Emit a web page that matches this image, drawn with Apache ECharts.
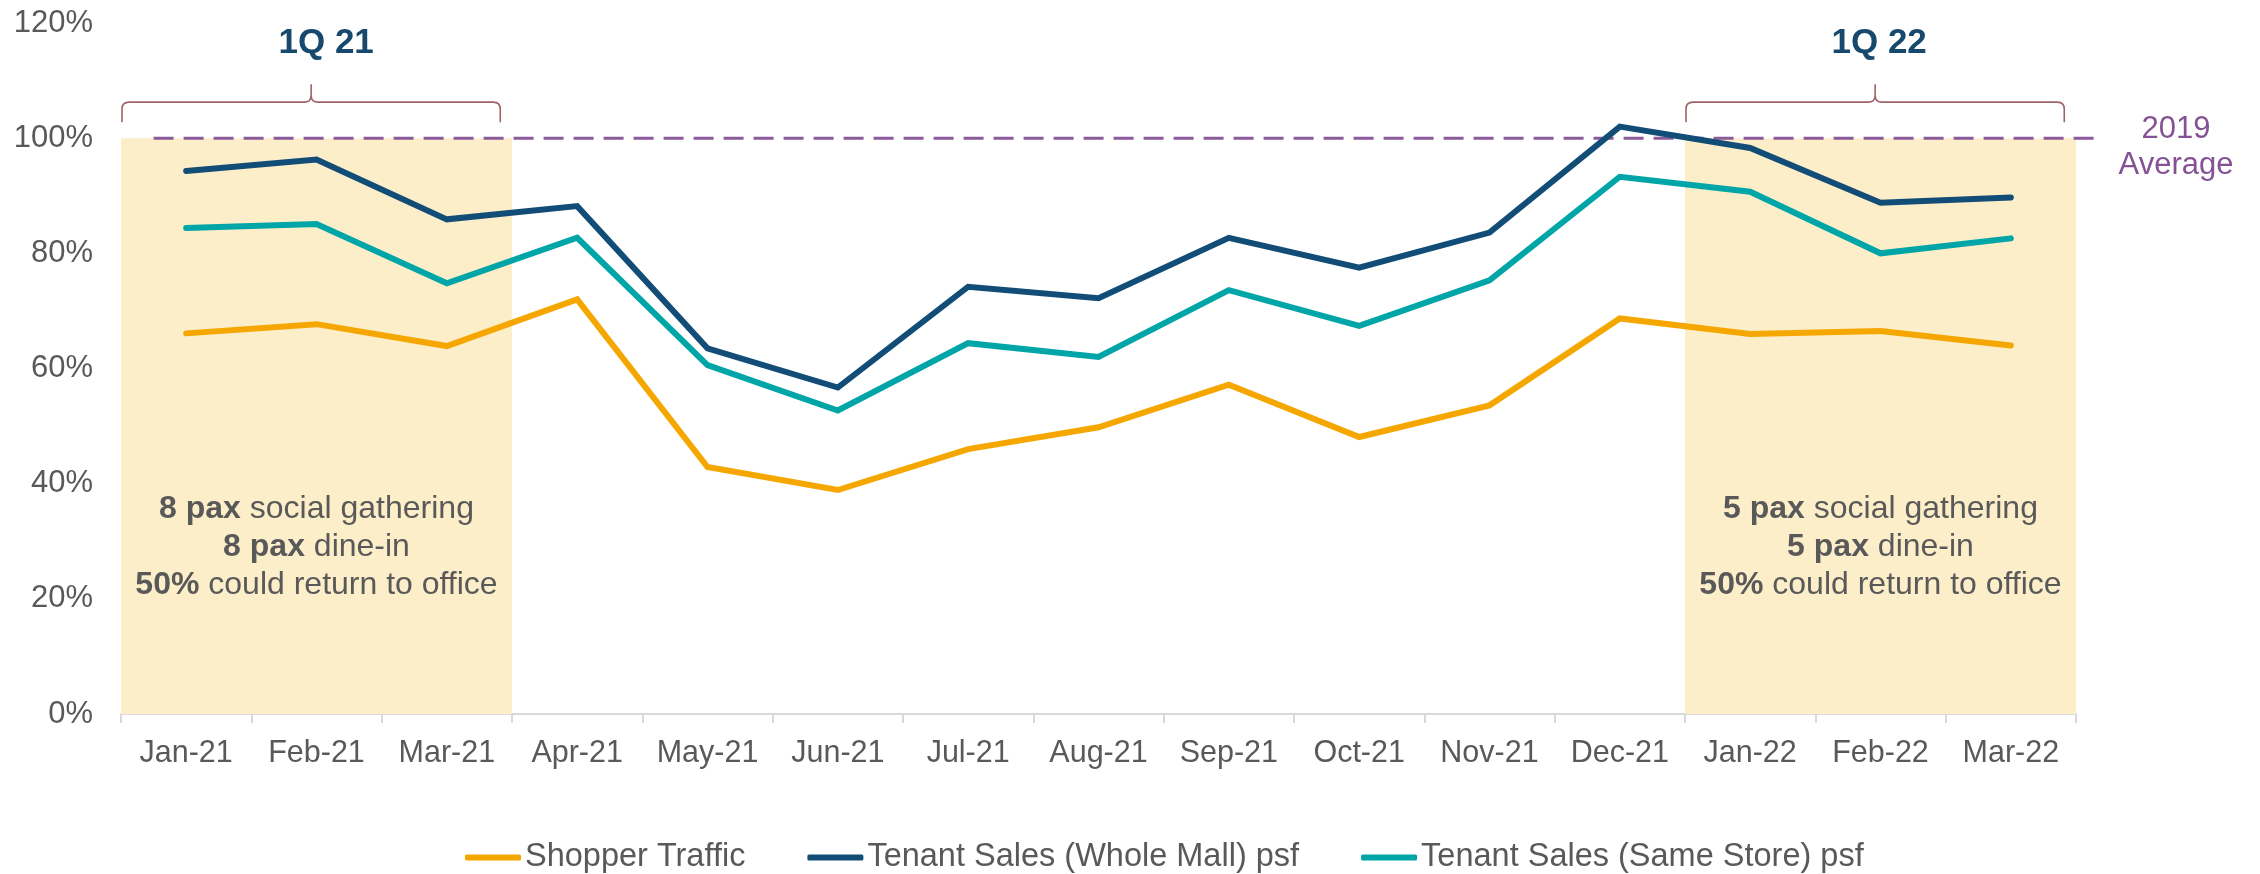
<!DOCTYPE html>
<html>
<head>
<meta charset="utf-8">
<title>Shopper Traffic and Tenant Sales</title>
<script src="https://cdn.jsdelivr.net/npm/echarts@6/dist/echarts.min.js"></script>
<style>
  html, body { margin: 0; padding: 0; background: #ffffff; }
  #chart { width: 2260px; height: 874px; }
</style>
</head>
<body>
<div id="chart"></div>
<script>
// Monthly categories
const months = ['Jan-21', 'Feb-21', 'Mar-21', 'Apr-21', 'May-21', 'Jun-21', 'Jul-21', 'Aug-21',
                'Sep-21', 'Oct-21', 'Nov-21', 'Dec-21', 'Jan-22', 'Feb-22', 'Mar-22'];

// Series values, % of 2019 average
const shopperTraffic = [66.1, 67.7, 63.9, 72.0, 42.9, 38.9, 46.0, 49.8, 57.2, 48.1, 53.6, 68.7, 66.0, 66.5, 64.0];
const salesWholeMall = [94.3, 96.3, 85.9, 88.2, 63.5, 56.7, 74.2, 72.2, 82.7, 77.5, 83.6, 102.0, 98.3, 88.8, 89.7];
const salesSameStore = [84.4, 85.1, 74.8, 82.7, 60.6, 52.7, 64.4, 62.0, 73.6, 67.4, 75.3, 93.3, 90.7, 80.0, 82.6];

const seriesNames = ['Shopper Traffic', 'Tenant Sales (Whole Mall) psf', 'Tenant Sales (Same Store) psf'];

// Reference level and value axis ticks
const average2019 = 100;
const averageLabel = '2019\nAverage';
const yMin = 0, yMax = 120, yStep = 20;

// Highlighted quarters: first / last month index, title and restriction notes
const quarterLabels = ['1Q 21', '1Q 22'];
const quarterStart = [0, 12];
const quarterEnd = [2, 14];
const quarterNotes = [
  ['{b|8 pax} social gathering', '{b|8 pax} dine-in', '{b|50%} could return to office'],
  ['{b|5 pax} social gathering', '{b|5 pax} dine-in', '{b|50%} could return to office']
];
const noteLevel = 29;

const FONT = '"Liberation Sans", Arial, Helvetica, sans-serif';
const GREY = '#595959';
const COLORS = ['#F5A700', '#124D77', '#00A5A8'];
// horizontal nudge of each quarter title relative to its brace tip (px)
const TITLE_SHIFT = [15, 4];

const chart = echarts.init(document.getElementById('chart'), null, { renderer: 'canvas' });

// Shaded quarter bands with brace, title and notes
function renderQuarter(params, api) {
  const i = params.dataIndex;
  const s = api.value(0), e = api.value(1);
  const band = api.size([1, 0])[0];
  const pS = api.coord([s, average2019]);
  const pE = api.coord([e, average2019]);
  const p0 = api.coord([s, 0]);
  const x0 = pS[0] - band / 2, x1 = pE[0] + band / 2;
  const yTop = pS[1], yBot = p0[1];

  const bl = x0 + 1, br = x1 - 0.09 * band, mid = (bl + br) / 2;
  const yb = yTop - 16, yh = yTop - 36, tip = yTop - 54, r = 7;
  const brace =
    'M' + bl + ',' + yb + ' L' + bl + ',' + (yh + r) + ' Q' + bl + ',' + yh + ' ' + (bl + r) + ',' + yh +
    ' L' + (mid - r) + ',' + yh + ' Q' + mid + ',' + yh + ' ' + mid + ',' + (yh - r) + ' L' + mid + ',' + tip +
    ' M' + mid + ',' + (yh - r) + ' Q' + mid + ',' + yh + ' ' + (mid + r) + ',' + yh +
    ' L' + (br - r) + ',' + yh + ' Q' + br + ',' + yh + ' ' + br + ',' + (yh + r) + ' L' + br + ',' + yb;

  const noteY = api.coord([s, noteLevel])[1];

  return {
    type: 'group',
    children: [
      { type: 'rect', shape: { x: x0, y: yTop, width: x1 - x0, height: yBot - yTop }, style: { fill: '#FDEECA' } },
      { type: 'path', shape: { pathData: brace }, style: { fill: null, stroke: '#9E6467', lineWidth: 1.6 } },
      {
        type: 'text',
        style: {
          text: quarterLabels[i], x: mid + TITLE_SHIFT[i], y: yTop - 95,
          fill: '#17496F', font: 'bold 35px ' + FONT, align: 'center', verticalAlign: 'middle'
        }
      },
      {
        type: 'text',
        style: {
          text: quarterNotes[i].join('\n'), x: (x0 + x1) / 2, y: noteY,
          fill: GREY, fontSize: 32, fontFamily: FONT, lineHeight: 38,
          align: 'center', verticalAlign: 'middle',
          rich: { b: { fontWeight: 'bold', fontSize: 32, fontFamily: FONT, fill: GREY, lineHeight: 38 } }
        }
      }
    ]
  };
}

// Dashed 2019 average line with its label
function renderAverage(params, api) {
  const band = api.size([1, 0])[0];
  const v = api.value(1);
  const pA = api.coord([0, v]);
  const pB = api.coord([months.length - 1, v]);
  const xa = pA[0] - 0.25 * band, xb = pB[0] + 0.7 * band;
  return {
    type: 'group',
    children: [
      { type: 'line', shape: { x1: xa, y1: pA[1], x2: xb, y2: pA[1] },
        style: { stroke: '#8A5A9B', lineWidth: 3, lineDash: [20, 10] } },
      { type: 'text',
        style: { text: averageLabel, x: xb + 74, y: pA[1] + 9, fill: '#845294',
                 fontSize: 31, fontFamily: FONT, lineHeight: 36, align: 'center', verticalAlign: 'middle' } }
    ]
  };
}

const lineSeries = [shopperTraffic, salesWholeMall, salesSameStore].map((vals, k) => ({
  name: seriesNames[k],
  type: 'line',
  data: vals,
  z: 3,
  symbol: 'none',
  showSymbol: false,
  color: COLORS[k],
  lineStyle: { width: 6, color: COLORS[k], cap: 'round', join: 'miter' }
}));

chart.setOption({
  animation: false,
  textStyle: { fontFamily: FONT },
  grid: { left: 121, right: 184, top: 23, bottom: 160, containLabel: false },
  legend: {
    data: seriesNames,
    left: 460,
    top: 836,
    itemGap: 62,
    itemWidth: 56,
    itemHeight: 6,
    icon: 'roundRect',
    textStyle: { fontSize: 32.5, color: GREY, fontFamily: FONT, padding: [0, 0, 0, -1] }
  },
  xAxis: {
    type: 'category',
    data: months,
    boundaryGap: true,
    axisLine: { show: true, lineStyle: { color: '#D9D9D9', width: 2 } },
    axisTick: { show: true, interval: 0, length: 9, lineStyle: { color: '#D9D9D9', width: 2 } },
    axisLabel: { interval: 0, fontSize: 30.5, color: GREY, margin: 24, fontFamily: FONT, hideOverlap: false },
    splitLine: { show: false }
  },
  yAxis: {
    type: 'value',
    min: yMin,
    max: yMax,
    interval: yStep,
    axisLine: { show: false },
    axisTick: { show: false },
    splitLine: { show: false },
    axisLabel: { fontSize: 31, color: GREY, margin: 28, fontFamily: FONT, formatter: '{value}%' }
  },
  series: [
    {
      type: 'custom',
      name: 'quarters',
      z: 1,
      clip: false,
      silent: true,
      renderItem: renderQuarter,
      encode: { x: 0, y: 2 },
      data: quarterStart.map((s, i) => [s, quarterEnd[i], average2019])
    },
    {
      type: 'custom',
      name: 'average',
      z: 2,
      clip: false,
      silent: true,
      renderItem: renderAverage,
      encode: { x: 0, y: 1 },
      data: [[0, average2019]]
    }
  ].concat(lineSeries)
});
</script>
</body>
</html>
